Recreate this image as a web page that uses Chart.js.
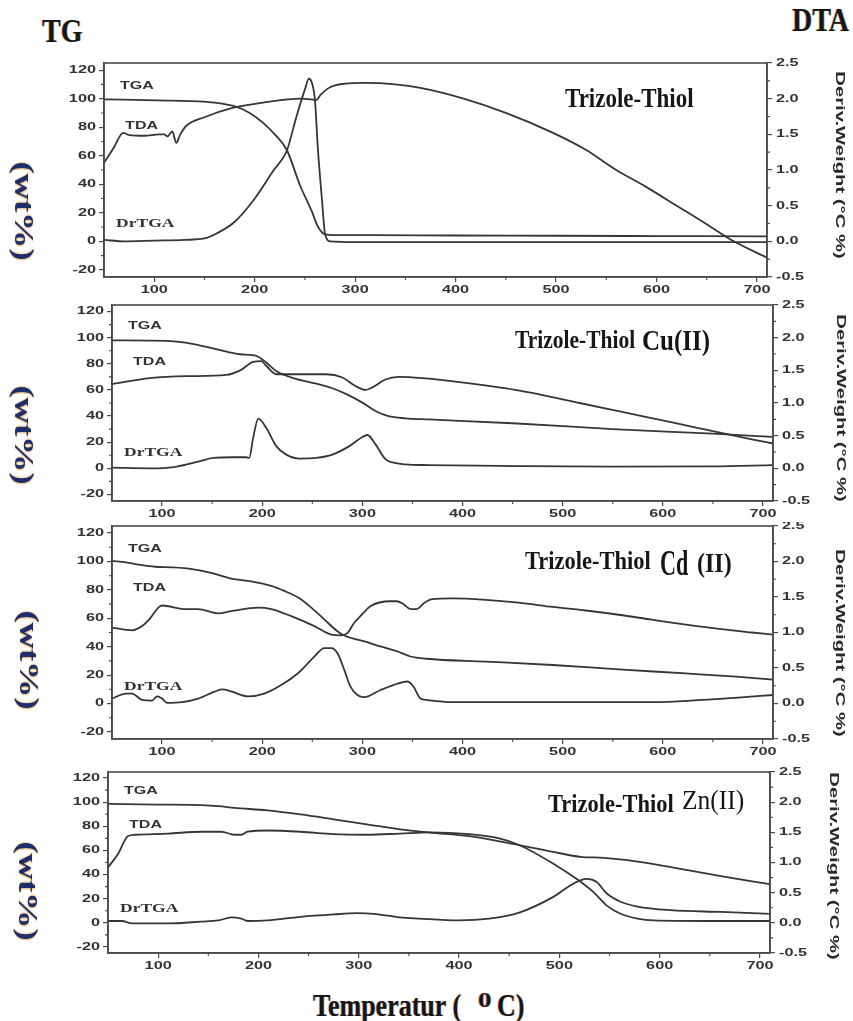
<!DOCTYPE html>
<html>
<head>
<meta charset="utf-8">
<title>TG / DTA</title>
<script src="https://cdn.jsdelivr.net/npm/chart.js@4.4.1/dist/chart.umd.min.js"></script>
<style>
  body { margin: 0; background: #fff; }
  #page { position: relative; width: 853px; height: 1021px; overflow: hidden; background: #fff; }
  #page canvas { position: absolute; left: 0; }
  .txt { position: absolute; white-space: nowrap; line-height: 1; color: #161616;
         font-family: "Liberation Serif", "Times New Roman", serif; }
  .rot { position: absolute; white-space: nowrap; line-height: 1; }
</style>
</head>
<body>
<div id="page">
  <canvas id="c1" width="853" height="250" style="top:50px"></canvas>
  <canvas id="c2" width="853" height="222" style="top:300px"></canvas>
  <canvas id="c3" width="853" height="238" style="top:522px"></canvas>
  <canvas id="c4" width="853" height="215" style="top:760px"></canvas>
</div>
<script>
// ---------------- axis ticks ----------------
const xTicks = [100, 200, 300, 400, 500, 600, 700];
const xMinorTicks = [150, 250, 350, 450, 550, 650];
const wtTicks = [-20, 0, 20, 40, 60, 80, 100, 120];
const wtMinorTicks = [-10, 10, 30, 50, 70, 90, 110];
const derivTicks = [-0.5, 0, 0.5, 1, 1.5, 2, 2.5];
const derivMinorTicks = [-0.25, 0.25, 0.75, 1.25, 1.75, 2.25];

// ---------------- Trizole-Thiol ----------------
const thiolTgaT = [50, 104, 150, 179, 195, 209, 220, 232, 245, 257, 263, 270, 280, 320, 400, 500, 600, 710];
const thiolTga  = [99.5, 98.8, 97.9, 94.9, 90, 82.7, 75, 64, 39.5, 20.8, 10.2, 4.9, 4.4, 4.3, 4.1, 3.9, 3.7, 3.5];
const thiolTdaT = [50, 60, 69, 75, 90, 105, 110, 113, 118, 122, 126, 132, 150, 178, 211, 245, 256, 261, 266, 275, 290, 310, 340, 365, 408, 450, 497, 530, 560, 590, 620, 650, 677, 710];
const thiolTda  = [1.1, 1.32, 1.52, 1.49, 1.48, 1.5, 1.5, 1.47, 1.54, 1.38, 1.5, 1.62, 1.74, 1.87, 1.95, 2.0, 1.99, 1.98, 2.06, 2.16, 2.21, 2.22, 2.2, 2.15, 2.0, 1.8, 1.52, 1.28, 1.0, 0.76, 0.5, 0.24, 0.0, -0.23];
const thiolDrT  = [50, 70, 100, 130, 150, 162, 179, 199, 219, 232, 241, 250, 254, 257, 260, 263, 267, 270, 275, 300, 500, 710];
const thiolDr   = [0.02, 0.0, 0.01, 0.02, 0.04, 0.11, 0.26, 0.58, 1.0, 1.27, 1.72, 2.13, 2.28, 2.22, 1.98, 1.28, 0.58, 0.11, 0.0, -0.01, -0.01, -0.01];

// ---------------- Trizole-Thiol Cu(II) ----------------
const cuTgaT = [50, 105, 125, 155, 178, 194, 204, 214, 231, 254, 270, 283, 300, 313, 326, 343, 366, 450, 550, 650, 710];
const cuTga  = [98, 97.5, 96, 91, 87.3, 86, 81, 74.5, 69, 64.8, 61.3, 57.2, 50.3, 43.9, 40, 38.3, 37.4, 34.5, 30, 26.5, 24];
const cuTdaT = [50, 88, 125, 164, 178, 191, 199, 204, 214, 231, 264, 280, 293, 303, 310, 323, 336, 360, 407, 457, 517, 557, 607, 650, 690, 710];
const cuTda  = [1.29, 1.38, 1.41, 1.43, 1.5, 1.63, 1.64, 1.57, 1.44, 1.44, 1.44, 1.39, 1.26, 1.2, 1.24, 1.36, 1.4, 1.38, 1.3, 1.19, 1.0, 0.87, 0.71, 0.57, 0.44, 0.38];
const cuDrT  = [50, 88, 112, 138, 151, 170, 184, 187, 191, 196, 204, 214, 224, 237, 254, 270, 287, 300, 305, 313, 323, 330, 343, 366, 450, 550, 650, 710];
const cuDr   = [0.01, 0.0, 0.02, 0.11, 0.16, 0.17, 0.17, 0.16, 0.47, 0.76, 0.62, 0.34, 0.21, 0.15, 0.16, 0.21, 0.34, 0.48, 0.51, 0.37, 0.14, 0.09, 0.06, 0.05, 0.035, 0.025, 0.03, 0.05];

// ---------------- Trizole-Thiol Cd(II) ----------------
const cdTgaT = [50, 64, 77, 93, 110, 130, 150, 169, 189, 209, 222, 236, 249, 262, 275, 283, 302, 318, 335, 348, 364, 423, 490, 556, 623, 673, 710];
const cdTga  = [100.5, 99.4, 97.8, 96.3, 95.9, 94.7, 91.8, 88, 86, 82.8, 79.3, 74.6, 67.5, 59.2, 50.9, 47.5, 43.8, 40.2, 36.7, 33.1, 31.5, 29.5, 27.1, 24, 21.2, 18.9, 16.8];
const cdTdaT = [50, 70, 80, 88, 97, 100, 123, 136, 156, 169, 196, 209, 229, 252, 269, 279, 285, 292, 298, 308, 328, 334, 341, 348, 354, 362, 370, 390, 423, 456, 490, 523, 556, 589, 623, 656, 689, 710];
const cdTda  = [1.07, 1.03, 1.09, 1.2, 1.36, 1.38, 1.33, 1.33, 1.27, 1.3, 1.35, 1.33, 1.23, 1.09, 0.97, 0.96, 0.99, 1.14, 1.23, 1.37, 1.44, 1.44, 1.4, 1.33, 1.33, 1.42, 1.47, 1.48, 1.46, 1.42, 1.36, 1.31, 1.25, 1.18, 1.11, 1.05, 1.0, 0.97];
const cdDrT  = [50, 64, 70, 80, 90, 95, 100, 105, 120, 136, 153, 160, 169, 186, 202, 219, 236, 252, 262, 269, 275, 282, 288, 295, 302, 318, 331, 345, 351, 358, 364, 390, 490, 589, 639, 672, 710];
const cdDr   = [0.07, 0.14, 0.14, 0.05, 0.04, 0.1, 0.07, 0.01, 0.02, 0.07, 0.17, 0.2, 0.17, 0.1, 0.14, 0.26, 0.43, 0.66, 0.78, 0.78, 0.71, 0.47, 0.24, 0.12, 0.09, 0.19, 0.26, 0.31, 0.24, 0.07, 0.05, 0.02, 0.02, 0.02, 0.05, 0.08, 0.12];

// ---------------- Trizole-Thiol Zn(II) ----------------
const znTgaT = [50, 100, 143, 160, 176, 209, 242, 275, 308, 341, 371, 410, 460, 494, 521, 544, 568, 594, 628, 661, 710];
const znTga  = [98.6, 98, 97.5, 96.7, 95.3, 93.2, 89.9, 85.8, 81.6, 77.5, 74.8, 71.8, 64.4, 58.8, 54.7, 53.9, 51.9, 48.6, 43.6, 38.7, 32];
const znTdaT = [50, 60, 70, 77, 110, 143, 163, 176, 183, 189, 209, 242, 275, 308, 341, 371, 410, 440, 460, 494, 517, 534, 547, 561, 578, 594, 645, 710];
const znTda  = [0.92, 1.14, 1.44, 1.46, 1.48, 1.51, 1.51, 1.46, 1.46, 1.51, 1.53, 1.51, 1.47, 1.46, 1.48, 1.5, 1.47, 1.4, 1.29, 0.98, 0.73, 0.51, 0.29, 0.15, 0.07, 0.04, 0.03, 0.03];
const znDrT  = [50, 64, 74, 110, 143, 160, 173, 183, 189, 209, 242, 275, 298, 315, 341, 360, 400, 430, 460, 494, 514, 527, 537, 547, 561, 578, 611, 661, 710];
const znDr   = [0.03, 0.03, -0.01, -0.01, 0.02, 0.04, 0.09, 0.07, 0.03, 0.04, 0.1, 0.14, 0.16, 0.15, 0.09, 0.07, 0.04, 0.07, 0.17, 0.43, 0.65, 0.73, 0.68, 0.49, 0.35, 0.27, 0.21, 0.18, 0.15];

// curve names, placed at (°C, wt%)
const curveNames = [
  { text: 'TGA',   x: 66, y: 109, font: 'bold 10.7px "Liberation Sans", Arial, sans-serif', sx: 1.5 },
  { text: 'TDA',   x: 71, y: 81,  font: 'bold 10.7px "Liberation Sans", Arial, sans-serif', sx: 1.5 },
  { text: 'DrTGA', x: 62, y: 12,  font: 'bold 12.5px "Liberation Serif", "Times New Roman", serif', sx: 1.4 }
];

// canvas id, plot box (page px) and series of each panel
const panels = [
  { id: 'c1', top: 50,  height: 250, plotTop: 63,  plotBottom: 277, left: 104, right: 767,
    tga: [thiolTgaT, thiolTga], tda: [thiolTdaT, thiolTda], dr: [thiolDrT, thiolDr] },
  { id: 'c2', top: 300, height: 222, plotTop: 305, plotBottom: 501, left: 112, right: 773,
    tga: [cuTgaT, cuTga], tda: [cuTdaT, cuTda], dr: [cuDrT, cuDr] },
  { id: 'c3', top: 522, height: 238, plotTop: 526, plotBottom: 739, left: 112, right: 773,
    tga: [cdTgaT, cdTga], tda: [cdTdaT, cdTda], dr: [cdDrT, cdDr] },
  { id: 'c4', top: 760, height: 215, plotTop: 772, plotBottom: 953, left: 108, right: 770,
    tga: [znTgaT, znTga], tda: [znTdaT, znTda], dr: [znDrT, znDr] }
];

const PAGE_W = 853;
const frameColor = '#4a4a4a';
const lineColor = '#363636';
const tickFont = 'bold 10.5px "Liberation Sans", Arial, sans-serif';

function pts(ts, vs) {
  return ts.map((t, i) => ({ x: t, y: vs[i] }));
}

// text drawn wider than tall, like the exported plot labels
function wideText(ctx, s, x, y, sx) {
  ctx.save();
  ctx.translate(x, y);
  ctx.scale(sx, 1);
  ctx.fillText(s, 0, 0);
  ctx.restore();
}

const decorations = {
  id: 'decorations',
  afterDraw(chart) {
    const { ctx, chartArea: a, scales } = chart;
    ctx.save();
    ctx.strokeStyle = frameColor;
    ctx.lineWidth = 1.6;
    ctx.strokeRect(a.left, a.top, a.right - a.left, a.bottom - a.top);

    // minor ticks
    ctx.lineWidth = 1.1;
    ctx.beginPath();
    xMinorTicks.forEach(v => {
      const px = scales.x.getPixelForValue(v);
      ctx.moveTo(px, a.bottom); ctx.lineTo(px, a.bottom + 3);
    });
    wtMinorTicks.forEach(v => {
      const py = scales.y.getPixelForValue(v);
      ctx.moveTo(a.left, py); ctx.lineTo(a.left - 3, py);
    });
    derivMinorTicks.forEach(v => {
      const py = scales.y2.getPixelForValue(v);
      ctx.moveTo(a.right, py); ctx.lineTo(a.right + 3, py);
    });
    ctx.stroke();

    // tick labels
    ctx.fillStyle = '#333';
    ctx.font = tickFont;
    ctx.textBaseline = 'middle';
    ctx.textAlign = 'center';
    xTicks.forEach(v => wideText(ctx, String(v), scales.x.getPixelForValue(v), a.bottom + 13, 1.55));
    ctx.textAlign = 'right';
    wtTicks.forEach(v => wideText(ctx, String(v), a.left - 8, scales.y.getPixelForValue(v), 1.55));
    ctx.textAlign = 'left';
    derivTicks.forEach(v => wideText(ctx, v.toFixed(1), a.right + 9, scales.y2.getPixelForValue(v), 1.55));

    // curve names
    curveNames.forEach(n => {
      ctx.font = n.font;
      wideText(ctx, n.text, scales.x.getPixelForValue(n.x), scales.y.getPixelForValue(n.y), n.sx);
    });
    ctx.restore();
  }
};

const lineStyle = {
  borderColor: lineColor,
  borderWidth: 1.8,
  pointRadius: 0,
  fill: false,
  cubicInterpolationMode: 'monotone'
};

function axisBase(min, max, ticks) {
  return {
    type: 'linear',
    min: min,
    max: max,
    afterBuildTicks: s => { s.ticks = ticks.map(v => ({ value: v })); },
    ticks: { display: false },
    grid: { drawOnChartArea: false, drawTicks: true, tickLength: 5, color: frameColor, lineWidth: 1.2 },
    border: { display: true, color: frameColor, width: 1.6 }
  };
}

panels.forEach(p => {
  const xAxisH = p.top + p.height - p.plotBottom;
  new Chart(document.getElementById(p.id), {
    type: 'line',
    data: {
      datasets: [
        Object.assign({ label: 'TGA',   data: pts(p.tga[0], p.tga[1]), yAxisID: 'y' }, lineStyle),
        Object.assign({ label: 'TDA',   data: pts(p.tda[0], p.tda[1]), yAxisID: 'y2' }, lineStyle),
        Object.assign({ label: 'DrTGA', data: pts(p.dr[0], p.dr[1]),   yAxisID: 'y2' }, lineStyle)
      ]
    },
    options: {
      responsive: false,
      animation: false,
      layout: { padding: { top: p.plotTop - p.top, bottom: 0, left: 0, right: 0 } },
      plugins: { legend: { display: false }, tooltip: { enabled: false } },
      scales: {
        x: Object.assign(axisBase(50, 710, xTicks), { afterFit: s => { s.height = xAxisH; } }),
        y: Object.assign(axisBase(-25, 125, wtTicks), { position: 'left', afterFit: s => { s.width = p.left; } }),
        y2: Object.assign(axisBase(-0.5, 2.5, derivTicks), { position: 'right', afterFit: s => { s.width = PAGE_W - p.right; } })
      }
    },
    plugins: [decorations]
  });
});

// ---------------- page titles and axis names ----------------
const page = document.getElementById('page');

function addText(html, x, base, size, opt) {
  opt = opt || {};
  const d = document.createElement('div');
  d.className = 'txt';
  d.innerHTML = html;
  d.style.left = x + 'px';
  d.style.top = (base - 0.84 * size) + 'px';
  d.style.fontSize = size + 'px';
  d.style.fontWeight = opt.weight || 'bold';
  d.style.transformOrigin = '0 ' + (0.84 * size) + 'px';
  d.style.transform = 'scale(' + (opt.sx || 1) + ', ' + (opt.sy || 1) + ')';
  if (opt.shadow) d.style.textShadow = opt.shadow;
  page.appendChild(d);
}

function addRotated(text, cx, cy, font, color, stretch, shadow) {
  const d = document.createElement('div');
  d.className = 'rot';
  d.textContent = text;
  d.style.left = cx + 'px';
  d.style.top = cy + 'px';
  d.style.font = font;
  d.style.color = color;
  d.style.transform = 'translate(-50%, -50%) rotate(90deg) scaleX(' + stretch + ')';
  if (shadow) d.style.textShadow = shadow;
  page.appendChild(d);
}

const fringe = '-0.7px 0 0.6px rgba(215, 130, 40, 0.55), 0.7px 0 0.6px rgba(40, 70, 160, 0.35)';
addText('TG', 42, 43, 28, { sy: 1.2, shadow: fringe });
addText('DTA', 792, 32, 28, { sy: 1.2, shadow: fringe });
addText('Temperatur (', 313, 1017, 26, { sy: 1.25, shadow: fringe });
addText('0', 478, 1007, 20, { sx: 1.35, sy: 1.1, shadow: fringe });
addText('C)', 497, 1017, 26, { sy: 1.25, shadow: fringe });

// sample names
addText('Trizole-Thiol', 565, 107, 23, { sy: 1.18 });
addText('Trizole-Thiol', 515, 349, 21.5, { sy: 1.18 });
addText('Cu(II)', 642, 350, 25, { sy: 1.2 });
addText('Trizole-Thiol', 525, 570, 22.5, { sy: 1.16 });
addText('Cd', 660, 576, 26, { sx: 0.85, sy: 1.35 });
addText('(II)', 697, 572, 24, { sy: 1.15 });
addText('Trizole-Thiol', 548, 813, 22.5, { sy: 1.16 });
addText('Zn(II)', 682, 809, 25.5, { weight: 'normal', sy: 1.1 });

// axis names beside every panel
const wtFont = 'bold 28px "Liberation Serif", "Times New Roman", serif';
const wtShadow = '1px 0 1px rgba(230, 145, 50, 0.6), -1px 0 1px rgba(230, 145, 50, 0.35)';
const derivFont = 'bold 13.5px "Liberation Sans", Arial, sans-serif';
[[24, 211], [24, 435], [29, 660], [28, 891]].forEach(c =>
  addRotated('(wt%)', c[0], c[1], wtFont, '#1d2f6a', 1.3, wtShadow));
[[840, 165], [841, 408], [840, 643], [834, 866]].forEach(c =>
  addRotated('Deriv.Weight (\u00B0C %)', c[0], c[1], derivFont, '#2a2a2a', 1.5));
</script>
</body>
</html>
